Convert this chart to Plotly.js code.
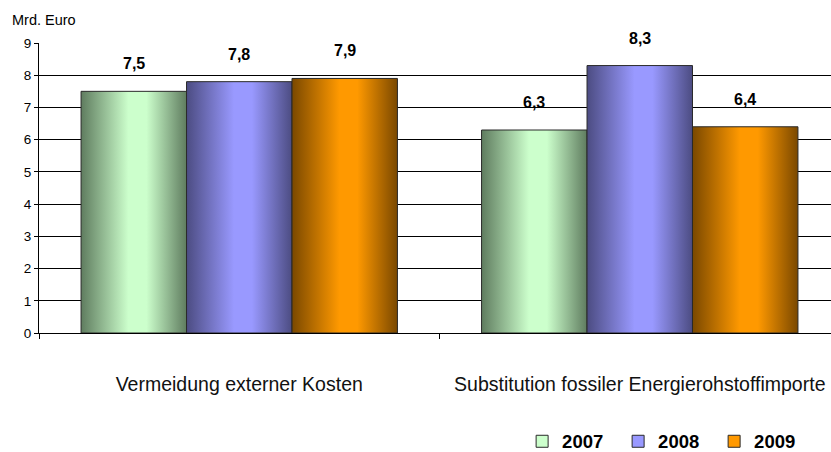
<!DOCTYPE html>
<html>
<head>
<meta charset="utf-8">
<script src="https://cdn.plot.ly/plotly-3.0.1.min.js"></script>
<style>
  html, body { margin: 0; padding: 0; background: #fff; }
  #chart { width: 831px; height: 452px; }
</style>
</head>
<body>
<div id="chart"></div>
<script>
const categories = ["Vermeidung externer Kosten", "Substitution fossiler Energierohstoffimporte"];
const years = ["2007", "2008", "2009"];
const values2007 = [7.5, 6.3];
const values2008 = [7.8, 8.3];
const values2009 = [7.9, 6.4];
const seriesValues = [values2007, values2008, values2009];
const yTickVals = [0, 1, 2, 3, 4, 5, 6, 7, 8, 9];

const lightColors = ["#CCFFCC", "#9999FF", "#FF9900"];
const darkColors = ["#5F7C5F", "#4C4C82", "#7A4800"];
const FONT = "'Liberation Sans', Arial, sans-serif";
const BARGAP = 0.21;

const traces = years.map((yr, j) => ({
  type: "bar",
  name: yr,
  x: categories,
  y: seriesValues[j],
  marker: { color: lightColors[j], line: { color: "#2a2a2a", width: 1 } },
  hoverinfo: "none"
}));

const fmt = v => v.toFixed(1).replace(".", ",");
const barW = (1 - BARGAP) / years.length;
const annotations = [];
seriesValues.forEach((vals, j) => {
  vals.forEach((v, i) => {
    annotations.push({
      x: i + (j - (years.length - 1) / 2) * barW,
      y: v,
      xref: "x", yref: "y",
      text: fmt(v),
      showarrow: false,
      yanchor: "bottom",
      yshift: 17,
      font: { family: FONT, size: 16, color: "#000", weight: "bold" }
    });
  });
});
annotations.push({
  xref: "paper", yref: "paper",
  x: -0.036, y: 1.045, xanchor: "left", yanchor: "bottom",
  text: "Mrd. Euro", showarrow: false,
  font: { family: FONT, size: 14.5, color: "#000" }
});

const layout = {
  width: 831, height: 452,
  margin: { l: 38.5, r: 0, t: 43, b: 119, autoexpand: false },
  paper_bgcolor: "#fff", plot_bgcolor: "#fff",
  font: { family: FONT, color: "#000" },
  barmode: "group",
  bargap: BARGAP,
  bargroupgap: 0,
  showlegend: true,
  legend: {
    orientation: "h",
    x: 0.61, xanchor: "left",
    y: -0.375, yanchor: "middle",
    font: { family: FONT, size: 18.5, color: "#000", weight: "bold" },
    entrywidth: 51,
    itemclick: false
  },
  xaxis: {
    type: "category",
    range: [-0.5, 1.4775],
    tickson: "boundaries",
    ticks: "outside", ticklen: 5, tickcolor: "#000",
    showline: true, linecolor: "#000", linewidth: 1,
    showgrid: false,
    ticklabelstandoff: 34,
    tickfont: { family: FONT, size: 19.5, color: "#111" },
    automargin: false,
    fixedrange: true
  },
  yaxis: {
    range: [0, 9],
    tickvals: yTickVals,
    ticks: "outside", ticklen: 4, tickcolor: "#000",
    showline: true, linecolor: "#000", linewidth: 1,
    showgrid: true, gridcolor: "#000", gridwidth: 1,
    zeroline: true, zerolinecolor: "#000",
    tickfont: { family: FONT, size: 13.5, color: "#000" },
    automargin: false,
    fixedrange: true
  },
  annotations: annotations
};

const gd = document.getElementById("chart");
Plotly.newPlot(gd, traces, layout, { displayModeBar: false, staticPlot: true }).then(() => {
  const svg = gd.querySelector(".main-svg");
  const NS = "http://www.w3.org/2000/svg";
  const defs = document.createElementNS(NS, "defs");
  years.forEach((yr, j) => {
    const g = document.createElementNS(NS, "linearGradient");
    g.setAttribute("id", "barGrad" + j);
    g.setAttribute("x1", "0"); g.setAttribute("x2", "1");
    g.setAttribute("y1", "0"); g.setAttribute("y2", "0");
    const stops = [[0, darkColors[j]], [0.45, lightColors[j]], [0.62, lightColors[j]], [1, darkColors[j]]];
    stops.forEach(([o, c]) => {
      const s = document.createElementNS(NS, "stop");
      s.setAttribute("offset", o);
      s.setAttribute("stop-color", c);
      g.appendChild(s);
    });
    defs.appendChild(g);
  });
  svg.insertBefore(defs, svg.firstChild);
  const barTraces = gd.querySelectorAll(".barlayer .trace");
  barTraces.forEach((t, j) => {
    t.querySelectorAll(".point path").forEach(p => {
      p.style.fill = "url(#barGrad" + j + ")";
    });
  });
});
</script>
</body>
</html>
